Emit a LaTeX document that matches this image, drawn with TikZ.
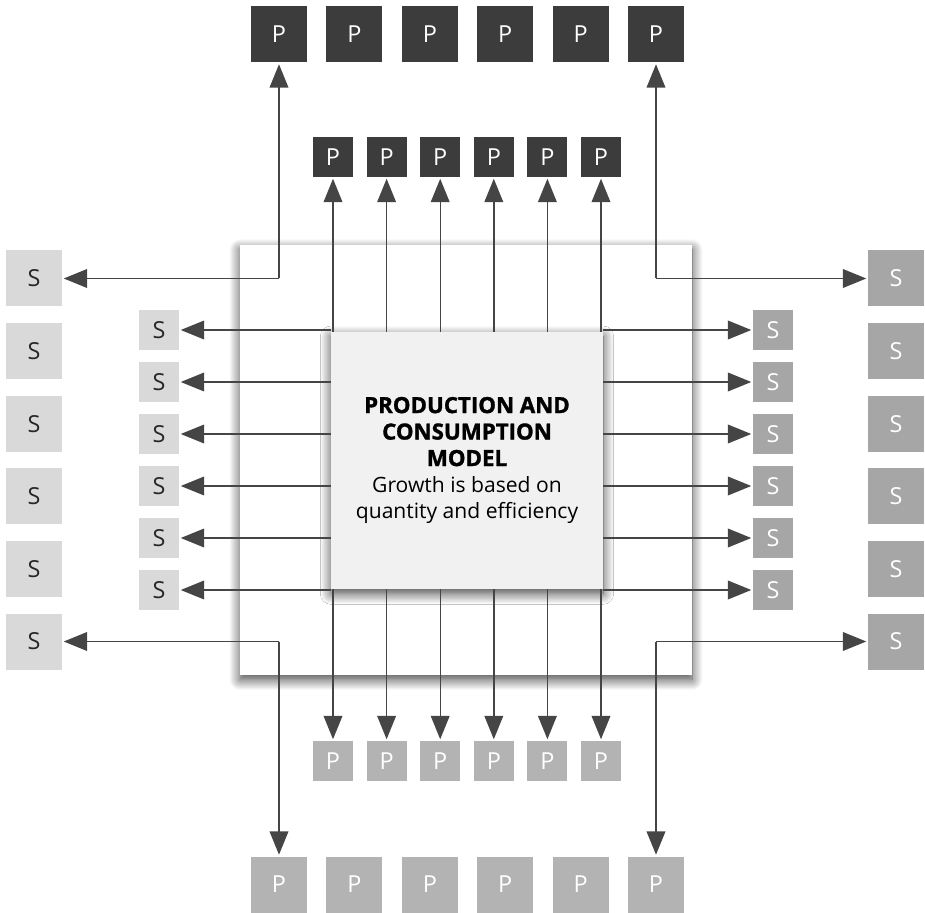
\documentclass[tikz,border=0pt]{standalone}
\usepackage{fontspec}
\setmainfont{Open Sans}
\newfontfamily\heavyfont[BoldFeatures={FakeBold=1.4}]{Open Sans}
\newcommand\titleline{\heavyfont\bfseries\fontsize{19}{22.6}\selectfont}
\usetikzlibrary{arrows.meta,positioning,calc,shadows.blur}

\definecolor{pdark}{HTML}{3C3C3C}
\definecolor{slight}{HTML}{D9D9D9}
\definecolor{smid}{HTML}{A6A6A6}
\definecolor{plight}{HTML}{B3B3B3}
\definecolor{coreface}{HTML}{F1F1F1}
\definecolor{linkgray}{HTML}{454545}

\begin{document}
\begin{tikzpicture}[
    x=0.3mm, y=-0.3mm,
    cell/.style={inner sep=0pt, outer sep=1.5pt, font=\fontsize{20}{20}\selectfont},
    big/.style={cell, minimum size=16.8mm},
    small/.style={cell, minimum size=12mm},
    prodtop/.style={fill=pdark, text=white},
    prodbot/.style={fill=plight, text=white},
    suppl/.style={fill=slight, text=black!85},
    suppr/.style={fill=smid, text=white},
    panel/.style={blur shadow={shadow xshift=0pt, shadow yshift=-1.4mm, shadow blur radius=3.2mm, shadow blur steps=12, shadow opacity=75}},
    link/.style={draw=linkgray, line width=1.2pt, -{Triangle[length=7mm, width=5.6mm]}}
  ]
  \useasboundingbox (0,0) rectangle (925,913);

  % the two panels
  \node[panel, fill=white, minimum width=135.6mm, minimum height=129mm] (frame) at (466,460) {};
  \node[panel, fill=coreface, minimum width=81.6mm, minimum height=77.1mm] (core) at (467,460.5) {};

  % outer ring of boxes
  \foreach \i in {1,...,6} {
    \node[big, prodtop] (po\i) at ({279+75.4*(\i-1)},34.5) {P};
    \node[big, prodbot] (pb\i) at ({279+75.4*(\i-1)},884.5) {P};
    \node[big, suppl] (sl\i) at (34,{278.5+72.6*(\i-1)}) {S};
    \node[big, suppr] (sr\i) at (896,{278.5+72.6*(\i-1)}) {S};
  }

  % inner ring of boxes
  \foreach \i in {1,...,6} {
    \node[small, prodtop] (pi\i) at ({333+53.6*(\i-1)},157) {P};
    \node[small, prodbot] (pj\i) at ({333+53.6*(\i-1)},761) {P};
    \node[small, suppl] (si\i) at (159,{330+52*(\i-1)}) {S};
    \node[small, suppr] (sj\i) at (773,{330+52*(\i-1)}) {S};
  }

  % inner arrows
  \foreach \i in {1,...,6} {
    \draw[link] (pi\i |- core.north) -- (pi\i);
    \draw[link] (pj\i |- core.south) -- (pj\i);
    \draw[link] (core.west |- si\i) -- (si\i);
    \draw[link] (core.east |- sj\i) -- (sj\i);
  }

  % outer corner arrows
  \coordinate (ctl) at (po1 |- sl1);
  \coordinate (ctr) at (po6 |- sr1);
  \coordinate (cbl) at (pb1 |- sl6);
  \coordinate (cbr) at (pb6 |- sr6);
  \draw[link] (ctl) -- (po1);
  \draw[link] (ctl) -- (sl1);
  \draw[link] (ctr) -- (po6);
  \draw[link] (ctr) -- (sr1);
  \draw[link] (cbl) -- (pb1);
  \draw[link] (cbl) -- (sl6);
  \draw[link] (cbr) -- (pb6);
  \draw[link] (cbr) -- (sr6);

  \node[align=center, font=\fontsize{18}{22.6}\selectfont] (label) at (core)
    {\titleline PRODUCTION AND\\ \titleline CONSUMPTION\\ \titleline MODEL\\
     Growth is based on\\ quantity and efficiency};
\end{tikzpicture}
\end{document}
